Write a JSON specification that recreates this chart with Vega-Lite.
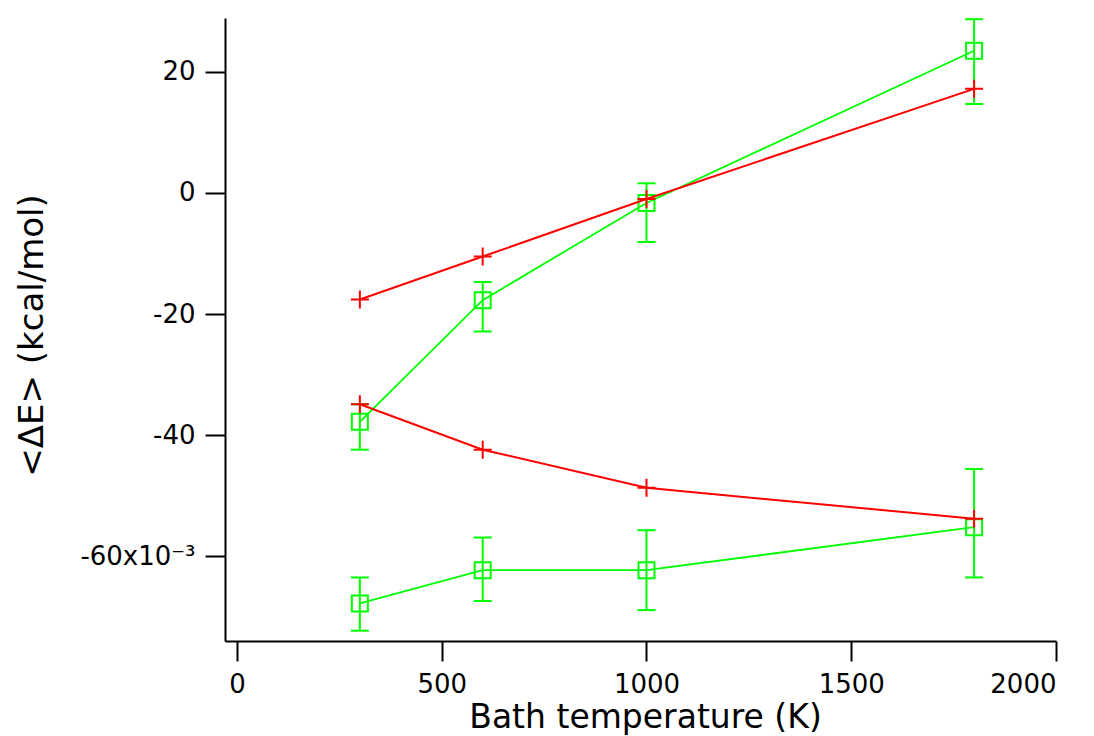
{
  "$schema": "https://vega.github.io/schema/vega-lite/v6.json",
  "width": 831,
  "height": 623,
  "autosize": {"type": "none"},
  "padding": {"left": 225, "top": 18, "right": 38, "bottom": 95},
  "background": "white",
  "config": {
    "view": {"stroke": null},
    "axis": {
      "domainColor": "black", "domainWidth": 2,
      "tickColor": "black", "tickWidth": 2, "tickSize": 20,
      "labelFont": "DejaVu Sans", "labelFontSize": 26, "labelColor": "black",
      "titleFont": "DejaVu Sans", "titleFontWeight": "normal", "titleColor": "black",
      "grid": false
    }
  },
  "data": {
    "values": [
      {"set": "red1", "group": "red", "T": 300, "E": -0.0176},
      {"set": "red1", "group": "red", "T": 600, "E": -0.0105},
      {"set": "red1", "group": "red", "T": 1000, "E": -0.0010},
      {"set": "red1", "group": "red", "T": 1800, "E": 0.0172},
      {"set": "red2", "group": "red", "T": 300, "E": -0.0349},
      {"set": "red2", "group": "red", "T": 600, "E": -0.0424},
      {"set": "red2", "group": "red", "T": 1000, "E": -0.0487},
      {"set": "red2", "group": "red", "T": 1800, "E": -0.0538},
      {"set": "green1", "group": "green", "T": 300, "E": -0.0378, "lo": -0.0424, "hi": -0.0349},
      {"set": "green1", "group": "green", "T": 600, "E": -0.0177, "lo": -0.0229, "hi": -0.0147},
      {"set": "green1", "group": "green", "T": 1000, "E": -0.00165, "lo": -0.0081, "hi": 0.0016},
      {"set": "green1", "group": "green", "T": 1800, "E": 0.0235, "lo": 0.0147, "hi": 0.0287},
      {"set": "green2", "group": "green", "T": 300, "E": -0.0678, "lo": -0.0723, "hi": -0.0635},
      {"set": "green2", "group": "green", "T": 600, "E": -0.0623, "lo": -0.0674, "hi": -0.0569},
      {"set": "green2", "group": "green", "T": 1000, "E": -0.0623, "lo": -0.0689, "hi": -0.0557},
      {"set": "green2", "group": "green", "T": 1800, "E": -0.0552, "lo": -0.0635, "hi": -0.0456}
    ]
  },
  "encoding": {
    "x": {
      "field": "T", "type": "quantitative",
      "scale": {"domain": [-29.3, 2000], "nice": false, "zero": false},
      "axis": {"values": [0, 500, 1000, 1500, 2000], "format": "d", "title": "Bath temperature (K)", "labelPadding": 10,
        "titleFontSize": 33, "titleX": 420, "titleY": 86, "titleBaseline": "alphabetic", "titleAlign": "center"}
    }
  },
  "layer": [
    {
      "transform": [{"filter": "datum.group === 'green'"}],
      "mark": {"type": "rule", "color": "#00ff00", "strokeWidth": 2},
      "encoding": {
        "y": {"field": "lo", "type": "quantitative", "scale": {"domain": [-0.074, 0.0289], "nice": false, "zero": false},
          "axis": {"values": [-0.06, -0.04, -0.02, 0, 0.02], "title": "<ΔE> (kcal/mol)", "labelPadding": 10,
            "titleFontSize": 34, "titleX": -183, "titleY": 317, "titleAngle": -90, "titleBaseline": "alphabetic", "titleAlign": "center",
            "labelExpr": "abs(datum.value + 0.06) < 1e-9 ? '-60x10⁻³' : toString(round(datum.value * 1000))"}},
        "y2": {"field": "hi"}
      }
    },
    {
      "transform": [{"filter": "datum.group === 'green'"}],
      "mark": {"type": "tick", "orient": "horizontal", "color": "#00ff00", "size": 18, "thickness": 2, "opacity": 1},
      "encoding": {"y": {"field": "lo", "type": "quantitative"}}
    },
    {
      "transform": [{"filter": "datum.group === 'green'"}],
      "mark": {"type": "tick", "orient": "horizontal", "color": "#00ff00", "size": 18, "thickness": 2, "opacity": 1},
      "encoding": {"y": {"field": "hi", "type": "quantitative"}}
    },
    {
      "transform": [{"filter": "datum.group === 'green'"}],
      "mark": {"type": "line", "color": "#00ff00", "strokeWidth": 1.8},
      "encoding": {"y": {"field": "E", "type": "quantitative"}, "detail": {"field": "set"}}
    },
    {
      "transform": [{"filter": "datum.group === 'green'"}],
      "mark": {"type": "point", "shape": "square", "filled": false, "color": "#00ff00", "size": 256, "strokeWidth": 2, "opacity": 1},
      "encoding": {"y": {"field": "E", "type": "quantitative"}}
    },
    {
      "transform": [{"filter": "datum.group === 'red'"}],
      "mark": {"type": "line", "color": "#ff0000", "strokeWidth": 2},
      "encoding": {"y": {"field": "E", "type": "quantitative"}, "detail": {"field": "set"}}
    },
    {
      "transform": [{"filter": "datum.group === 'red'"}],
      "mark": {"type": "point", "shape": "M-1,0H1M0,-1V1", "filled": false, "color": "#ff0000", "size": 324, "strokeWidth": 2, "opacity": 1},
      "encoding": {"y": {"field": "E", "type": "quantitative"}}
    }
  ]
}
